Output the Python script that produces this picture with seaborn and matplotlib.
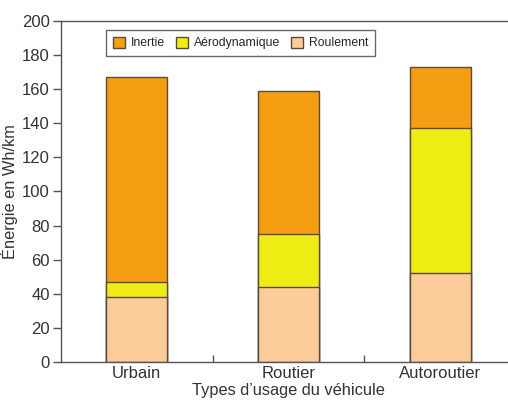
import pandas as pd
import matplotlib
matplotlib.use("Agg")
import matplotlib.pyplot as plt
import seaborn as sns
from matplotlib.patches import Patch

# Données (Wh/km)
usages = ["Urbain", "Routier", "Autoroutier"]
roulement = [38, 44, 52]
aerodynamique = [9, 31, 85]
inertie = [120, 84, 36]

couleurs = {"Inertie": "#F59E12", "Aérodynamique": "#EEEC12", "Roulement": "#FCCD9B"}
bord = "#5a4a3a"

sns.set_style("white")
plt.rcParams["font.family"] = ["Liberation Sans", "DejaVu Sans"]

df = pd.DataFrame({"usage": usages, "roulement": roulement,
                   "aero": aerodynamique, "inertie": inertie})
df["cum_aero"] = df["roulement"] + df["aero"]
df["total"] = df["cum_aero"] + df["inertie"]

fig = plt.figure(figsize=(5.08, 4.01), dpi=100)
ax = fig.add_axes([0.120, 0.0973, 0.896, 0.8503])

# barres empilées : on superpose les cumuls
for col, nom in [("total", "Inertie"), ("cum_aero", "Aérodynamique"), ("roulement", "Roulement")]:
    sns.barplot(data=df, x="usage", y=col, color=couleurs[nom], saturation=1,
                width=0.4, edgecolor=bord, linewidth=1, ax=ax)

ax.set_xlim(-0.5, 2.5)
ax.set_ylim(0, 200)
ax.set_yticks(range(0, 201, 20))
ax.set_xlabel("Types d’usage du véhicule", fontsize=11.8, color="#333333", labelpad=1)
ax.set_ylabel("Énergie en Wh/km", fontsize=11.8, color="#333333", labelpad=3)

ax.tick_params(axis="y", direction="out", length=6, width=1, color="#555555",
               labelsize=12, labelcolor="#333333", left=True, pad=2)
ax.tick_params(axis="x", which="major", length=0, labelsize=12, labelcolor="#333333", pad=3)
ax.set_xticks([0.5, 1.5], minor=True)
ax.tick_params(axis="x", which="minor", direction="in", length=5, width=1, color="#555555", bottom=True)

for s in ax.spines.values():
    s.set_color("#555555")
    s.set_linewidth(1)

handles = [Patch(facecolor=couleurs[n], edgecolor=bord, label=n)
           for n in ["Inertie", "Aérodynamique", "Roulement"]]
leg = ax.legend(handles=handles, ncol=3, loc="upper left", bbox_to_anchor=(0.099, 0.974),
                borderaxespad=0, fontsize=8.8, frameon=True, fancybox=False, edgecolor="#444444",
                handlelength=1.0, handleheight=1.0, handletextpad=0.5, columnspacing=0.85,
                borderpad=0.55)
leg.get_frame().set_linewidth(1)

fig.savefig("out.png", dpi=100)
